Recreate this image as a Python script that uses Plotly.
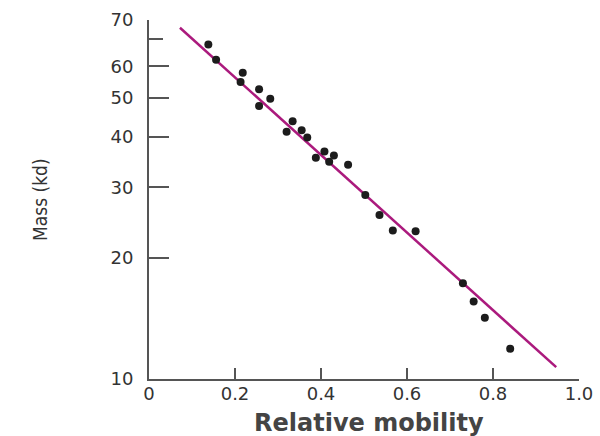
import numpy as np
import plotly.graph_objects as go

# Data
mobility = [0.138, 0.156, 0.218, 0.213, 0.256, 0.256, 0.282, 0.320, 0.334, 0.355,
            0.368, 0.388, 0.408, 0.419, 0.430, 0.463, 0.503, 0.536, 0.567, 0.620,
            0.730, 0.755, 0.781, 0.840]
mass = [68.0, 62.3, 57.8, 54.8, 52.6, 47.8, 49.8, 41.2, 43.8, 41.6,
        39.9, 35.5, 36.8, 34.7, 36.0, 34.1, 28.7, 25.6, 23.4, 23.3,
        17.3, 15.6, 14.2, 11.9]

fit_x = [0.072, 0.947]
fit_y = [74.8, 10.7]

x_tickvals = [0, 0.2, 0.4, 0.6, 0.8, 1.0]
x_ticktext = ["0", "0.2", "0.4", "0.6", "0.8", "1.0"]
y_tickvals = [10, 20, 30, 40, 50, 60, 78.2]
y_ticktext = ["10", "20", "30", "40", "50", "60", "70"]
y_minor_ticks = [70]

W, H = 600, 436
L, R, T, B = 149, 21, 20, 57

fig = go.Figure()
fig.add_trace(go.Scatter(x=fit_x, y=fit_y, mode="lines",
                         line=dict(color="#ab1a7d", width=2.5), showlegend=False))
fig.add_trace(go.Scatter(x=mobility, y=mass, mode="markers",
                         marker=dict(color="#1c1c1c", size=8, line=dict(width=0)),
                         showlegend=False))

tickfont = dict(family="DejaVu Sans", size=18, color="#333333")

fig.update_layout(
    width=W, height=H,
    margin=dict(l=L, r=R, t=T, b=B, autoexpand=False),
    paper_bgcolor="white", plot_bgcolor="white",
    xaxis=dict(range=[0, 1.0], tickmode="array", tickvals=x_tickvals, ticktext=x_ticktext,
               ticks="inside", ticklen=11, tickwidth=2, tickcolor="#555555",
               showline=True, linecolor="#555555", linewidth=2,
               showgrid=False, zeroline=False, tickfont=tickfont,
               ticklabelstandoff=-3, automargin=False),
    yaxis=dict(type="log", range=[1, np.log10(78.2)], tickmode="array",
               tickvals=y_tickvals, ticktext=y_ticktext,
               ticks="inside", ticklen=20, tickwidth=2, tickcolor="#555555",
               showline=True, linecolor="#555555", linewidth=2,
               showgrid=False, zeroline=False, tickfont=tickfont,
               ticklabelstandoff=10, automargin=False,
               minor=dict(tickmode="array", tickvals=y_minor_ticks, ticks="inside",
                          ticklen=14, tickwidth=2, tickcolor="#555555", showgrid=False)),
    annotations=[
        dict(text="Relative mobility", xref="paper", yref="paper",
             x=(369 - L) / (W - L - R), y=-(423 - (H - B)) / (H - T - B),
             xanchor="center", yanchor="middle", showarrow=False,
             font=dict(family="DejaVu Sans", size=24, weight="bold", color="#444444")),
        dict(text="Mass (kd)", xref="paper", yref="paper", textangle=-90,
             x=(40 - L) / (W - L - R), y=((H - B) - 199) / (H - T - B),
             xanchor="center", yanchor="middle", showarrow=False,
             font=dict(family="DejaVu Sans Condensed, Liberation Sans Narrow, sans-serif",
                       size=19, color="#333333")),
    ],
)

fig.write_html("out.html", config={"displayModeBar": False},
               post_script="document.body.style.margin='0';")
